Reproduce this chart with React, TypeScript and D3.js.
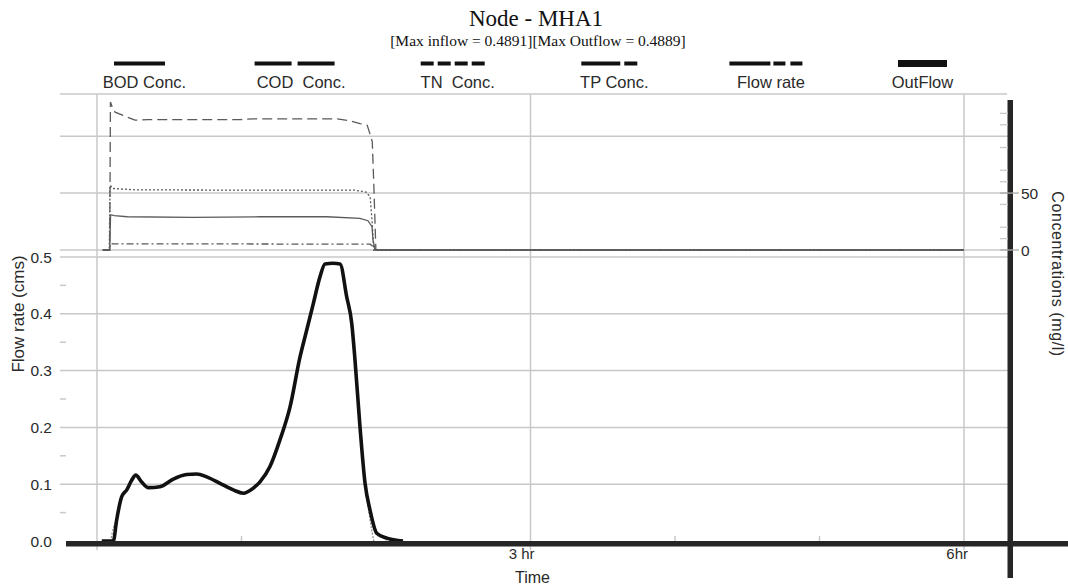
import React, { useEffect, useRef } from 'react';
import * as d3 from 'd3';

// time in hours, concentrations in mg/l, flow in cms
const codConc: [number, number][] = [
  [0.04, 0], [0.088, 0], [0.093, 130], [0.11, 124], [0.125, 121], [0.263, 114], [0.35, 114.5],
  [0.99, 114.5], [1.08, 115.2], [1.66, 115.2], [1.75, 113.4], [1.82, 111], [1.87, 109.6],
  [1.889, 102], [1.905, 95], [1.915, 60], [1.93, 0], [6, 0],
];
const tnConc: [number, number][] = [
  [0.04, 0], [0.085, 0], [0.09, 57], [0.11, 54], [0.27, 52.8], [1.0, 52.6], [1.78, 52.6],
  [1.86, 51], [1.89, 46.8], [1.905, 23.5], [1.915, 0], [6, 0],
];
const bodConc: [number, number][] = [
  [0.04, 0], [0.088, 0], [0.094, 31], [0.12, 30.2], [0.21, 29.2], [0.66, 28.7], [1.13, 29.2],
  [1.59, 29.2], [1.82, 27.8], [1.875, 25.7], [1.903, 20.5], [1.91, 8.8], [1.924, 0], [6, 0],
];
const tpConc: [number, number][] = [
  [0.04, 0], [0.088, 0], [0.093, 6], [0.11, 5.3], [1.0, 5.3], [1.89, 5.1], [1.91, 3], [1.93, 0], [6, 0],
];
const inflow: [number, number][] = [
  [0.04, 0], [0.09, 0], [0.11, 0.02], [0.15, 0.05], [0.171, 0.078], [0.206, 0.09], [0.24, 0.107],
  [0.268, 0.116], [0.309, 0.104], [0.355, 0.094], [0.436, 0.0956], [0.528, 0.109], [0.621, 0.117],
  [0.69, 0.118], [0.759, 0.113], [0.851, 0.1016], [0.943, 0.09], [1.012, 0.084], [1.082, 0.093],
  [1.128, 0.104], [1.197, 0.131], [1.266, 0.178], [1.336, 0.236], [1.405, 0.324], [1.451, 0.371],
  [1.497, 0.418], [1.543, 0.465], [1.578, 0.4877], [1.633, 0.4891], [1.682, 0.4877], [1.728, 0.43],
  [1.763, 0.383], [1.785, 0.32], [1.82, 0.2], [1.855, 0.1], [1.885, 0.045], [1.905, 0.014], [1.915, 0],
];
const outflow: [number, number][] = [
  [0.033, 0], [0.113, 0], [0.136, 0.037], [0.171, 0.078], [0.206, 0.09], [0.24, 0.107], [0.268, 0.116],
  [0.309, 0.104], [0.355, 0.094], [0.436, 0.0956], [0.528, 0.109], [0.621, 0.117], [0.69, 0.118],
  [0.759, 0.113], [0.851, 0.1016], [0.943, 0.09], [1.012, 0.084], [1.082, 0.093], [1.128, 0.104],
  [1.197, 0.131], [1.266, 0.178], [1.336, 0.236], [1.405, 0.324], [1.451, 0.371], [1.497, 0.418],
  [1.543, 0.465], [1.578, 0.4877], [1.633, 0.4889], [1.682, 0.4877], [1.728, 0.43], [1.763, 0.383],
  [1.785, 0.32], [1.82, 0.201], [1.855, 0.1016], [1.889, 0.055], [1.936, 0.0136], [2.005, 0.005], [2.118, 0],
];

const legendNames = ['BOD Conc.', 'COD  Conc.', 'TN  Conc.', 'TP Conc.', 'Flow rate', 'OutFlow'];
const flowTicks = [0, 0.1, 0.2, 0.3, 0.4, 0.5];
const flowMinor = [0.05, 0.15, 0.25, 0.35, 0.45];
const concTicks = [0, 50];
const concGrid = [0, 50, 100];
const concMinor = [10, 20, 40, 60, 70, 90, 110, 120];
const hourTicks = [1, 2, 4, 5];
const hourLabels: [number, string][] = [[3, '3 hr'], [6, '6hr']];
const title = 'Node - MHA1';
const subtitle = '[Max inflow = 0.4891][Max Outflow = 0.4889]';

const sans = '"Liberation Sans", Arial, sans-serif';
const serif = '"Liberation Serif", "Times New Roman", serif';

// legend swatch style: width, dash, thickness
const legendStyle: Record<string, { w: number; dash: string; sw: number }> = {
  'BOD Conc.': { w: 51, dash: '', sw: 4 },
  'COD  Conc.': { w: 83, dash: '37,6', sw: 4 },
  'TN  Conc.': { w: 64, dash: '13,4', sw: 4 },
  'TP Conc.': { w: 56, dash: '39,4,13,4', sw: 4 },
  'Flow rate': { w: 73, dash: '41,3,12,5,12,4', sw: 4 },
  'OutFlow': { w: 49, dash: '', sw: 7 },
};

const App = () => {
  const ref = useRef<SVGSVGElement>(null);

  useEffect(() => {
    const svg = d3.select(ref.current).attr('width', 1068).attr('height', 587);
    svg.selectAll('*').remove();

    const x = d3.scaleLinear().domain([0, 6]).range([97, 964]);
    const yFlow = d3.scaleLinear().domain([0, 0.5]).range([541, 257]);
    const yConc = d3.scaleLinear().domain([0, 137]).range([250, 94]);
    const grid = '#c8c8c8';
    const ink = '#2a2a2a';

    // title
    svg.append('text').attr('x', 536).attr('y', 26).attr('text-anchor', 'middle')
      .attr('font-family', serif).attr('font-size', 23).attr('fill', '#111').text(title);
    svg.append('text').attr('x', 538).attr('y', 46).attr('text-anchor', 'middle')
      .attr('font-family', serif).attr('font-size', 15.5).attr('fill', '#111').text(subtitle);

    // legend
    const lx = d3.scalePoint<string>().domain(legendNames).range([139.5, 922.5]);
    legendNames.forEach(n => {
      const s = legendStyle[n];
      const cx = lx(n)!;
      svg.append('line').attr('x1', cx - s.w / 2).attr('x2', cx + s.w / 2)
        .attr('y1', 63.5).attr('y2', 63.5).attr('stroke', '#111').attr('stroke-width', s.sw)
        .attr('stroke-dasharray', s.dash || null);
      svg.append('text').attr('x', cx + (n === 'OutFlow' ? 0 : 5)).attr('y', 88).attr('text-anchor', 'middle')
        .attr('font-family', sans).attr('font-size', 16.5).attr('fill', ink)
        .style('white-space', 'pre').text(n);
    });

    // grid
    const g = svg.append('g').attr('stroke', grid).attr('stroke-width', 1.5);
    g.append('line').attr('x1', 60).attr('x2', 1007).attr('y1', 94).attr('y2', 94);
    concGrid.forEach(v => g.append('line').attr('x1', 60).attr('x2', 1008)
      .attr('y1', yConc(v)).attr('y2', yConc(v)));
    flowTicks.slice(1).forEach(v => g.append('line').attr('x1', 60).attr('x2', 1008)
      .attr('y1', yFlow(v)).attr('y2', yFlow(v)));
    [0, 3, 6].forEach(h => g.append('line').attr('x1', x(h)).attr('x2', x(h)).attr('y1', 94).attr('y2', 550));
    flowMinor.forEach(v => g.append('line').attr('x1', 60).attr('x2', 66)
      .attr('y1', yFlow(v)).attr('y2', yFlow(v)));
    hourTicks.forEach(h => g.append('line').attr('x1', x(h)).attr('x2', x(h)).attr('y1', 536).attr('y2', 541));

    // concentration lines
    const cLine = d3.line<[number, number]>().x(d => x(d[0])).y(d => yConc(d[1]));
    const conc: [[number, number][], string][] = [
      [tpConc, '7,3,2,3'], [bodConc, ''], [tnConc, '2,2'], [codConc, '10,5'],
    ];
    conc.forEach(([d, dash]) => {
      svg.append('path').datum(d).attr('d', cLine).attr('fill', 'none')
        .attr('stroke', '#5a5a5a').attr('stroke-width', 1.3)
        .attr('stroke-dasharray', dash || null);
    });

    // flow lines
    const fLine = d3.line<[number, number]>().x(d => x(d[0])).y(d => yFlow(d[1])).curve(d3.curveMonotoneX);
    svg.append('path').datum(inflow).attr('d', fLine).attr('fill', 'none')
      .attr('stroke', '#888').attr('stroke-width', 1.2).attr('stroke-dasharray', '2,1.5');
    svg.append('path').datum(outflow).attr('d', fLine).attr('fill', 'none')
      .attr('stroke', '#111').attr('stroke-width', 3.6).attr('stroke-linejoin', 'round');

    // x axis bar
    svg.append('rect').attr('x', 66).attr('y', 541).attr('width', 1002).attr('height', 5.5).attr('fill', '#262626');
    hourLabels.forEach(([h, t]) => {
      svg.append('text').attr('x', x(h) + 4).attr('y', 559).attr('text-anchor', 'end')
        .attr('font-family', sans).attr('font-size', 15).attr('fill', ink).text(t);
    });
    svg.append('text').attr('x', x(3) + 2).attr('y', 583).attr('text-anchor', 'middle')
      .attr('font-family', sans).attr('font-size', 16).attr('fill', ink).text('Time');

    // left axis
    flowTicks.forEach(v => {
      svg.append('text').attr('x', 52).attr('y', yFlow(v) + 5.5).attr('text-anchor', 'end')
        .attr('font-family', sans).attr('font-size', 15.5).attr('fill', ink).text(v.toFixed(1));
    });
    svg.append('text').attr('transform', 'translate(24,314) rotate(-90)').attr('text-anchor', 'middle')
      .attr('font-family', sans).attr('font-size', 17).attr('fill', ink).text('Flow rate (cms)');

    // right axis
    svg.append('rect').attr('x', 1007.5).attr('y', 100).attr('width', 5.5).attr('height', 478).attr('fill', '#262626');
    concMinor.forEach(v => svg.append('line').attr('x1', 1000).attr('x2', 1008)
      .attr('y1', yConc(v)).attr('y2', yConc(v)).attr('stroke', grid).attr('stroke-width', 1.3));
    concTicks.forEach(v => {
      svg.append('line').attr('x1', 1000).attr('x2', 1019).attr('y1', yConc(v)).attr('y2', yConc(v))
        .attr('stroke', '#aaa').attr('stroke-width', 1.3);
      svg.append('text').attr('x', 1021).attr('y', yConc(v) + 5.5).attr('font-family', sans)
        .attr('font-size', 15.5).attr('fill', ink).text(v);
    });
    svg.append('text').attr('transform', 'translate(1052,274) rotate(90)').attr('text-anchor', 'middle')
      .attr('font-family', sans).attr('font-size', 16).attr('letter-spacing', 0.6)
      .attr('fill', ink).text('Concentrations (mg/l)');
  }, []);

  return <svg ref={ref} style={{ position: 'absolute', left: 0, top: 0, background: '#fff' }}></svg>;
};

export default App;
